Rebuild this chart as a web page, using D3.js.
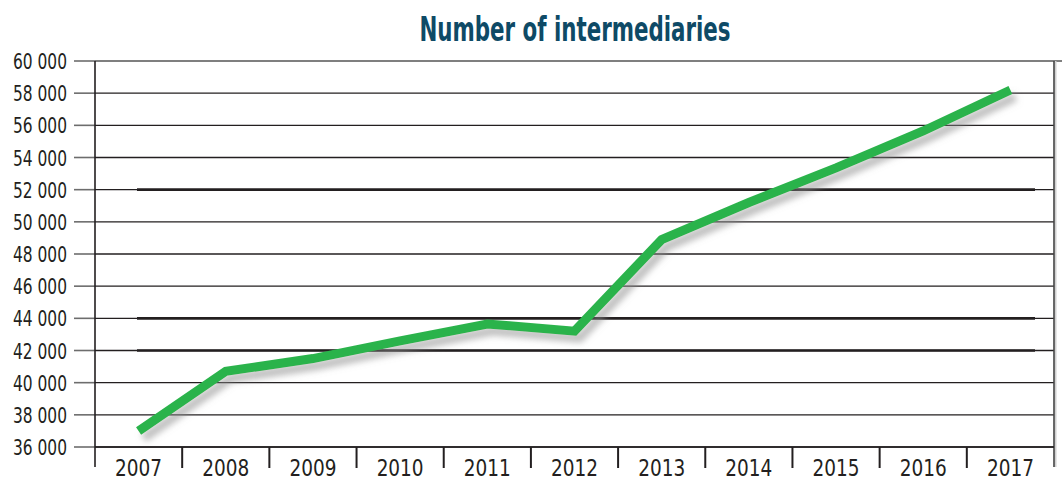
<!DOCTYPE html>
<html>
<head>
<meta charset="utf-8">
<script src="https://cdn.jsdelivr.net/npm/d3@7"></script>
<style>
  html, body { margin: 0; padding: 0; background: #fff; }
  svg { display: block; }
  text { font-family: "Liberation Sans Narrow", "DejaVu Sans Condensed", "Roboto", sans-serif; }
</style>
</head>
<body>
<svg id="chart" width="1062" height="481"></svg>
<script>
const title = "Number of intermediaries";
const years = ["2007","2008","2009","2010","2011","2012","2013","2014","2015","2016","2017"];
const intermediaries = [37000, 40700, 41500, 42600, 43650, 43200, 48900, 51200, 53350, 55650, 58200];
const yTicks = [36000, 38000, 40000, 42000, 44000, 46000, 48000, 50000, 52000, 54000, 56000, 58000, 60000];
const emphasisLines = [42000, 44000, 52000];

const svg = d3.select("#chart");
const plotLeft = 95, plotRight = 1054, plotTop = 61, plotBottom = 447;

const x = d3.scaleBand().domain(years).range([plotLeft, plotRight]).padding(0);
const y = d3.scaleLinear().domain([36000, 60000]).range([plotBottom, plotTop]);

const defs = svg.append("defs");
const f = defs.append("filter").attr("id", "shadow")
  .attr("x", "-10%").attr("y", "-20%").attr("width", "130%").attr("height", "150%");
f.append("feDropShadow").attr("dx", 5).attr("dy", 7).attr("stdDeviation", 3.2)
  .attr("flood-color", "#8a8a8a").attr("flood-opacity", 0.55);

// gridlines
svg.append("g").selectAll("line").data(yTicks).join("line")
  .attr("x1", plotLeft).attr("x2", d => d === 60000 ? 1062 : plotRight)
  .attr("y1", d => y(d)).attr("y2", d => y(d))
  .attr("stroke", d => d === 60000 ? "#555" : "#231f20").attr("stroke-width", 1.3);

// emphasis lines
svg.append("g").selectAll("line").data(emphasisLines).join("line")
  .attr("x1", 137).attr("x2", 1035)
  .attr("y1", d => y(d)).attr("y2", d => y(d))
  .attr("stroke", "#231f20").attr("stroke-width", 2.6);

// left tick marks
svg.append("g").selectAll("line").data(yTicks).join("line")
  .attr("x1", 74).attr("x2", plotLeft)
  .attr("y1", d => y(d)).attr("y2", d => y(d))
  .attr("stroke", "#6d6d6d").attr("stroke-width", 1.6);

// y labels
svg.append("g").selectAll("text").data(yTicks).join("text")
  .attr("x", 67).attr("y", d => y(d) + 8)
  .attr("text-anchor", "end")
  .attr("font-size", 22).attr("fill", "#231f20")
  .attr("textLength", 54).attr("lengthAdjust", "spacingAndGlyphs")
  .text(d => d3.format(",")(d).replace(",", " "));

// axes lines
svg.append("line").attr("x1", plotLeft).attr("x2", plotLeft).attr("y1", plotTop).attr("y2", 467)
  .attr("stroke", "#231f20").attr("stroke-width", 1.6);
svg.append("line").attr("x1", plotRight + 1.5).attr("x2", plotRight + 1.5).attr("y1", plotTop).attr("y2", 467)
  .attr("stroke", "#d0d0d0").attr("stroke-width", 2);
svg.append("line").attr("x1", plotRight).attr("x2", plotRight).attr("y1", plotTop).attr("y2", 467)
  .attr("stroke", "#444").attr("stroke-width", 1.6);
svg.append("line").attr("x1", plotLeft).attr("x2", plotRight).attr("y1", plotBottom).attr("y2", plotBottom)
  .attr("stroke", "#231f20").attr("stroke-width", 1.6);

// x category separators
svg.append("g").selectAll("line").data(years.slice(1)).join("line")
  .attr("x1", d => x(d)).attr("x2", d => x(d))
  .attr("y1", plotBottom).attr("y2", 468)
  .attr("stroke", "#231f20").attr("stroke-width", 2);

// x labels
svg.append("g").selectAll("text").data(years).join("text")
  .attr("x", d => x(d) + x.bandwidth() / 2).attr("y", 476)
  .attr("text-anchor", "middle")
  .attr("font-size", 23).attr("fill", "#231f20")
  .attr("textLength", 47).attr("lengthAdjust", "spacingAndGlyphs")
  .text(d => d);

// line
const line = d3.line().x((d, i) => x(years[i]) + x.bandwidth() / 2).y(d => y(d));
svg.append("path").datum(intermediaries)
  .attr("d", line)
  .attr("fill", "none")
  .attr("stroke", "#2bb34c")
  .attr("stroke-width", 9)
  .attr("stroke-linejoin", "miter")
  .attr("stroke-linecap", "butt")
  .attr("filter", "url(#shadow)");

// title
svg.append("text").attr("x", 575).attr("y", 41)
  .attr("text-anchor", "middle")
  .attr("font-size", 33).attr("font-weight", "bold").attr("fill", "#0e4a66")
  .attr("textLength", 311).attr("lengthAdjust", "spacingAndGlyphs")
  .text(title);
</script>
</body>
</html>
